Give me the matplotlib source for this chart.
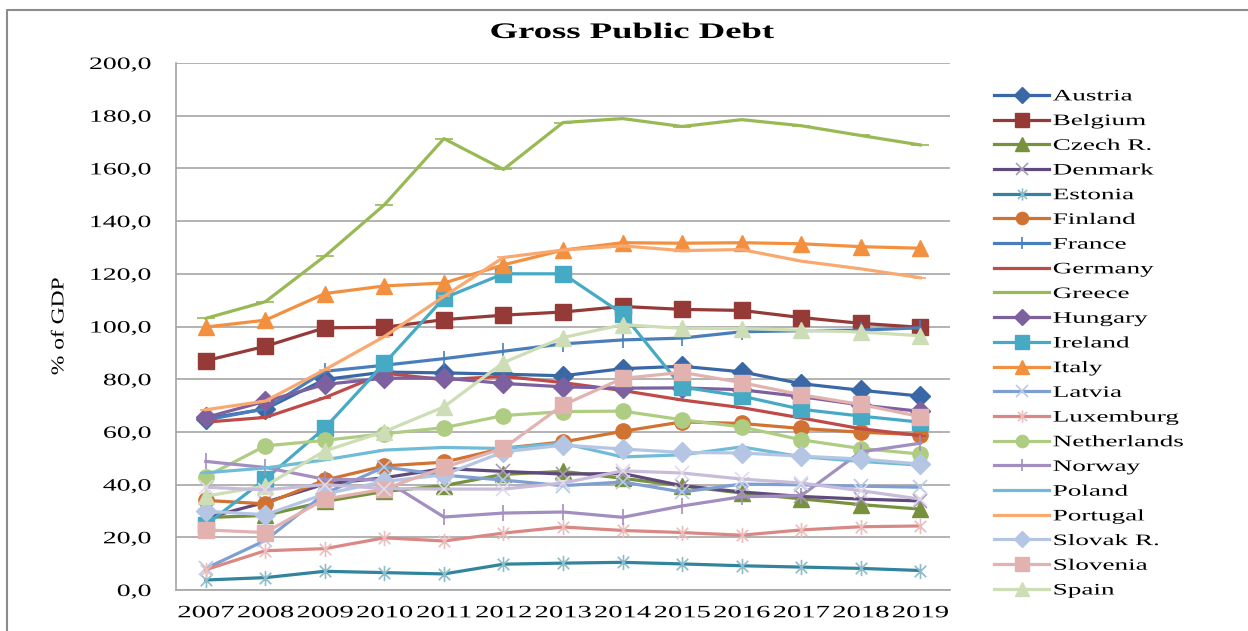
import matplotlib
matplotlib.use("Agg")
import matplotlib.pyplot as plt
from matplotlib.path import Path
from matplotlib.lines import Line2D
from matplotlib.patheffects import AbstractPathEffect
from matplotlib.transforms import Affine2D
from matplotlib.colors import to_rgb
import numpy as np

years = ["2007", "2008", "2009", "2010", "2011", "2012", "2013",
         "2014", "2015", "2016", "2017", "2018", "2019"]

austria = [65.0, 68.7, 79.9, 82.7, 82.4, 81.9, 81.3, 84.0, 84.9, 82.8, 78.3, 75.8, 73.6]
belgium = [87.0, 92.5, 99.5, 99.7, 102.6, 104.3, 105.5, 107.6, 106.5, 106.1, 103.4, 101.2, 99.7]
czech = [27.5, 28.3, 33.6, 37.4, 39.6, 43.9, 45.0, 42.4, 39.5, 36.8, 34.6, 32.4, 30.7]
denmark = [27.3, 33.3, 40.2, 42.6, 46.1, 45.0, 44.0, 44.2, 39.6, 37.2, 35.5, 34.5, 33.8]
estonia = [3.8, 4.7, 7.1, 6.6, 6.1, 9.8, 10.2, 10.5, 9.9, 9.2, 8.7, 8.2, 7.4]
finland = [34.0, 32.7, 41.7, 47.1, 48.5, 53.8, 56.2, 60.2, 63.8, 63.2, 61.3, 59.9, 58.9]
france = [64.5, 68.8, 83.0, 85.3, 87.8, 90.6, 93.4, 94.9, 95.6, 98.0, 98.4, 98.6, 99.5]
germany = [63.7, 65.5, 73.0, 82.3, 79.8, 81.1, 78.7, 75.7, 72.1, 69.2, 65.3, 61.2, 58.6]
greece = [103.1, 109.4, 126.7, 146.2, 171.3, 159.6, 177.4, 178.9, 175.9, 178.5, 176.2, 172.5, 168.9]
hungary = [65.5, 71.6, 78.0, 80.4, 80.4, 78.4, 77.1, 76.6, 76.7, 76.0, 73.4, 70.2, 67.8]
ireland = [24.7, 42.1, 61.5, 86.0, 110.8, 120.0, 120.0, 104.8, 77.0, 73.6, 68.6, 66.0, 63.7]
italy = [99.8, 102.4, 112.5, 115.4, 116.5, 123.4, 129.0, 131.8, 131.6, 131.8, 131.4, 130.3, 129.7]
latvia = [8.2, 18.8, 36.6, 46.7, 43.6, 41.7, 39.6, 41.0, 37.2, 40.2, 39.9, 39.4, 39.0]
luxembourg = [7.7, 14.9, 15.7, 19.8, 18.6, 21.6, 23.9, 22.6, 21.8, 20.8, 22.8, 24.0, 24.3]
netherlands = [43.0, 54.7, 56.8, 59.3, 61.6, 66.2, 67.7, 67.9, 64.6, 61.9, 57.0, 53.7, 51.6]
norway = [48.8, 46.5, 42.0, 41.8, 27.7, 29.2, 29.6, 27.6, 31.9, 35.4, 35.8, 52.4, 55.7]
poland = [44.5, 46.3, 49.4, 53.1, 54.1, 53.7, 55.7, 50.5, 51.3, 54.3, 50.6, 48.8, 47.4]
portugal = [68.4, 71.7, 83.6, 96.2, 111.4, 126.2, 129.0, 130.6, 128.8, 129.2, 124.8, 121.9, 118.5]
slovak = [29.9, 28.6, 36.4, 41.2, 43.7, 52.4, 55.0, 53.5, 52.2, 52.0, 50.8, 49.7, 47.8]
slovenia = [22.8, 21.8, 34.5, 38.3, 46.5, 53.8, 70.2, 80.3, 82.6, 78.7, 74.1, 70.4, 65.8]
spain = [35.6, 39.5, 52.8, 60.1, 69.5, 86.3, 95.8, 100.7, 99.3, 99.2, 98.6, 97.9, 96.5]
sweden = [39.0, 38.0, 40.0, 38.5, 38.3, 38.3, 40.6, 45.2, 44.4, 42.1, 40.6, 37.7, 34.5]

# asterisk marker like excel (x plus vertical bar)
star = Path([(0, -1), (0, 1), (-0.75, -0.75), (0.75, 0.75), (-0.75, 0.75), (0.75, -0.75)],
            [Path.MOVETO, Path.LINETO, Path.MOVETO, Path.LINETO, Path.MOVETO, Path.LINETO])

series = [
    ("Austria", austria, "#3A68A6", "D", 10),
    ("Belgium", belgium, "#953A37", "s", 12),
    ("Czech R.", czech, "#76923C", "^", 12),
    ("Denmark", denmark, "#604A7B", "x", 10),
    ("Estonia", estonia, "#31849B", star, 11),
    ("Finland", finland, "#D07232", "o", 11),
    ("France", france, "#4A7EBB", "|", 11),
    ("Germany", germany, "#BE4B48", "_", 9),
    ("Greece", greece, "#98B954", "_", 13),
    ("Hungary", hungary, "#7D60A0", "D", 10),
    ("Ireland", ireland, "#46AAC5", "s", 12),
    ("Italy", italy, "#F29040", "^", 12),
    ("Latvia", latvia, "#7F9FD3", "x", 10),
    ("Luxemburg", luxembourg, "#D98886", star, 11),
    ("Netherlands", netherlands, "#AECC82", "o", 11),
    ("Norway", norway, "#A28EC0", "|", 11),
    ("Poland", poland, "#70BCD8", "_", 9),
    ("Portugal", portugal, "#F9A870", "_", 9),
    ("Slovak R.", slovak, "#B4C6E4", "D", 10),
    ("Slovenia", slovenia, "#E2B2B1", "s", 12),
    ("Spain", spain, "#CDDDB5", "^", 12),
    ("Sweden", sweden, "#C8BCDB", "x", 10),
]


class Stretch(AbstractPathEffect):
    # widen text horizontally, like the stretched excel screenshot
    def __init__(self, sx, anchor="center"):
        super().__init__()
        self.sx = sx
        self.anchor = anchor

    def draw_path(self, renderer, gc, tpath, affine, rgbFace=None):
        v = tpath.vertices
        if len(v) == 0:
            return
        if self.anchor == "left":
            cx = v[:, 0].min()
        elif self.anchor == "right":
            cx = v[:, 0].max()
        else:
            cx = (v[:, 0].min() + v[:, 0].max()) / 2
        t = Affine2D().translate(-cx, 0).scale(self.sx, 1).translate(cx, 0) + affine
        renderer.draw_path(gc, tpath, t, rgbFace)


plt.rcParams['font.family'] = ['Liberation Serif', 'DejaVu Serif']

fig = plt.figure(figsize=(12.48, 6.31), dpi=100)
ax = fig.add_axes([176 / 1248, 41 / 631, 774 / 1248, 527 / 631])

x = np.arange(len(years))
handles = []
for name, vals, col, mk, ms in series:
    if mk in ("x", "|", "_") or mk is star:
        if mk == "x" or mk is star:
            edge = tuple(0.55 * np.array(to_rgb(col)) + 0.45)
        else:
            edge = col
        h, = ax.plot(x, vals, color=col, lw=2.3, marker=mk, markersize=ms,
                     markeredgecolor=edge, markeredgewidth=1.2, label=name)
    else:
        h, = ax.plot(x, vals, color=col, lw=2.3, marker=mk, markersize=ms,
                     markeredgecolor=col, markerfacecolor=col, label=name)
    handles.append(h)

ax.set_xlim(-0.5, 12.5)
ax.set_ylim(0, 200)
ax.set_xticks(x)
ax.set_xticklabels(years, fontsize=12.5)
yt = np.arange(0, 201, 20)
ax.set_yticks(yt)
ax.set_yticklabels([f"{v:.1f}".replace(".", ",") for v in yt], fontsize=12.5)
ax.tick_params(axis="x", length=0, pad=11)
ax.tick_params(axis="y", length=0, pad=18)
for lab in ax.get_xticklabels():
    lab.set_path_effects([Stretch(1.65, "center")])
for lab in ax.get_yticklabels():
    lab.set_path_effects([Stretch(1.6, "right")])
ax.yaxis.grid(True, color="#A6A6A6", lw=1.2)
ax.set_axisbelow(True)
for s in ("top", "right"):
    ax.spines[s].set_visible(False)
for s in ("left", "bottom"):
    ax.spines[s].set_color("#A6A6A6")
    ax.spines[s].set_linewidth(1.2)

ylab = ax.set_ylabel("% of GDP", fontsize=13, labelpad=32)
ylab.set_path_effects([Stretch(1.3, "center")])
title = fig.text(632 / 1248, 1 - 33 / 631, "Gross Public Debt", ha="center", va="center",
                 fontsize=16, fontweight="bold")
title.set_path_effects([Stretch(1.65, "center")])

# legend shows only the first 21 series (Sweden got cut off)
leg = fig.legend(handles=handles[:21], loc="upper left", bbox_to_anchor=(988 / 1248, 1 - 82 / 631),
                 frameon=False, fontsize=11.5, handlelength=3.45, handletextpad=0.2,
                 labelspacing=0.545, borderaxespad=0, markerscale=0.8)
for t in leg.get_texts():
    t.set_path_effects([Stretch(1.7, "left")])

# chart frame (left and top edges show in the screenshot)
fig.add_artist(Line2D([7 / 1248, 7 / 1248, 1], [0, 1 - 10 / 631, 1 - 10 / 631],
                      transform=fig.transFigure, color="#8C8C8C", lw=1.5))

fig.savefig("out.png", dpi=100)
